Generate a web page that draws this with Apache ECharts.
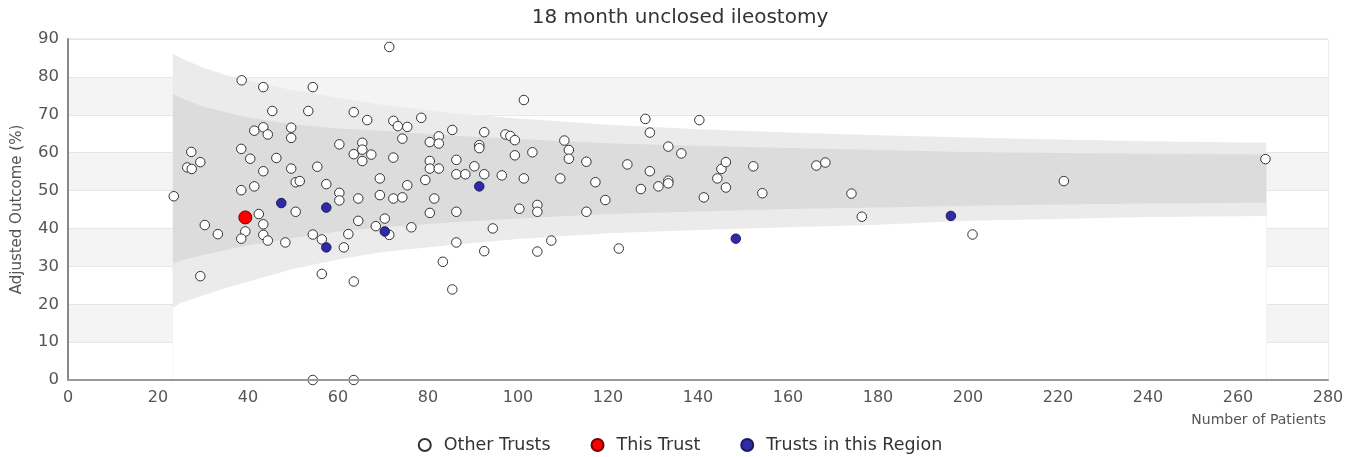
<!DOCTYPE html>
<html lang="en">
<head>
    <meta charset="utf-8">
    <title>18 month unclosed ileostomy</title>
    <style>
        html, body { margin: 0; padding: 0; background: #fff; }
        #funnel-chart { width: 1360px; height: 457px; }
    </style>
</head>
<body>
<div id="funnel-chart"></div>
<script src="https://cdn.jsdelivr.net/npm/echarts@6.0.0/dist/echarts.min.js"></script>
<script type="text/javascript">

// funnel limits at a few patient counts
var funnelN    = [23.3, 25, 30, 35, 40, 50, 60, 70, 85, 100, 120, 140, 160, 180, 200, 220, 240, 266.3];
var outerUpper = [86.2, 85.0, 82.5, 80.5, 79.0, 76.5, 74.5, 72.6, 70.5, 69.0, 67.4, 66.2, 65.3, 64.6, 64.0, 63.5, 63.0, 62.6];
var innerUpper = [75.5, 74.5, 72.2, 70.7, 69.3, 67.5, 66.4, 65.8, 64.5, 63.6, 62.5, 61.8, 61.2, 60.7, 60.2, 59.9, 59.7, 59.5];
var innerLower = [30.7, 31.5, 33.0, 34.3, 35.5, 37.5, 39.2, 40.3, 41.6, 42.6, 43.8, 44.5, 45.1, 45.5, 46.0, 46.3, 46.6, 46.8];
var outerLower = [19.1, 20.3, 22.3, 24.3, 25.9, 29.3, 31.8, 33.8, 35.6, 37.2, 38.7, 39.6, 40.3, 41.0, 42.0, 42.5, 43.0, 43.3];

// [number of patients, adjusted outcome %]
var otherTrusts = [
    [23.5, 48.5], [27.4, 60.2], [26.5, 56.1], [27.5, 55.7], [29.4, 57.5], [30.4, 40.9], [33.3, 38.5], [29.4, 27.4],
    [38.6, 79.1], [43.4, 77.3], [54.4, 77.3], [45.4, 71.0], [53.4, 71.0], [63.5, 70.7], [66.5, 68.6], [41.4, 65.8],
    [43.4, 66.7], [44.4, 64.8], [49.6, 66.6], [49.6, 63.9], [60.3, 62.2], [65.4, 62.6], [65.4, 60.8], [63.5, 59.6],
    [67.4, 59.5], [65.4, 57.8], [38.5, 61.0], [40.5, 58.4], [46.3, 58.6], [43.4, 55.1], [49.6, 55.8], [55.4, 56.3],
    [41.4, 51.1], [38.5, 50.1], [50.6, 52.2], [51.5, 52.5], [57.4, 51.7], [60.3, 49.4], [60.3, 47.4], [64.5, 47.9],
    [69.3, 53.2], [69.3, 48.8], [42.4, 43.8], [50.6, 44.4], [43.4, 41.1], [39.4, 39.2], [38.5, 37.3], [43.4, 38.3],
    [44.4, 36.8], [48.3, 36.3], [54.4, 38.4], [56.4, 37.1], [61.3, 35.0], [62.3, 38.5], [64.5, 42.0], [68.4, 40.6],
    [56.4, 28.0], [63.5, 26.0], [54.4, 0], [63.5, 0], [71.4, 87.9], [101.3, 73.9], [72.3, 68.4], [73.3, 67.0],
    [75.4, 66.8], [78.5, 69.2], [74.3, 63.7], [85.4, 66.0], [82.4, 64.3], [80.4, 62.8], [82.4, 62.4], [92.5, 65.4],
    [91.4, 62.0], [91.4, 61.2], [97.2, 64.8], [98.3, 64.4], [99.3, 63.3], [103.2, 60.1], [99.3, 59.3], [110.3, 63.2],
    [111.3, 60.7], [111.3, 58.4], [115.2, 57.6], [117.2, 52.2], [115.2, 44.4], [72.3, 58.7], [80.4, 57.8], [80.4, 55.8],
    [82.4, 55.8], [86.3, 58.1], [90.3, 56.4], [86.3, 54.3], [88.3, 54.3], [92.5, 54.3], [96.4, 54.0], [101.3, 53.2],
    [109.4, 53.2], [79.4, 52.8], [75.4, 51.4], [72.3, 47.9], [74.3, 48.2], [81.4, 47.9], [100.3, 45.2], [104.3, 46.2],
    [104.3, 44.4], [80.4, 44.1], [86.3, 44.4], [70.4, 42.6], [71.4, 38.3], [76.3, 40.3], [94.4, 40.0], [86.3, 36.3],
    [92.5, 34.0], [83.3, 31.2], [85.4, 23.9], [104.3, 33.9], [107.4, 36.8], [128.3, 68.9], [140.3, 68.6], [129.3, 65.3],
    [133.4, 61.6], [136.3, 59.8], [124.3, 56.9], [129.3, 55.1], [119.4, 47.5], [127.3, 50.4], [131.2, 51.1], [133.4, 52.6],
    [133.4, 51.9], [141.3, 48.2], [144.3, 53.2], [145.2, 55.7], [146.2, 57.5], [146.2, 50.8], [152.3, 56.4], [154.3, 49.3],
    [166.3, 56.6], [168.3, 57.4], [174.1, 49.2], [176.4, 43.1], [201.0, 38.4], [221.3, 52.5], [266.1, 58.3], [122.4, 34.7]
];
var thisTrust = [[39.4, 42.9]];
var regionTrusts = [[47.4, 46.7], [57.4, 45.5], [57.4, 35.0], [70.4, 39.2], [91.4, 51.1], [148.4, 37.3], [196.2, 43.3]];

var xTicks = { min: 0, max: 280, interval: 20 };
var yTicks = { min: 0, max: 90, interval: 10 };

function band(values, color) {
    // each band is filled down to the bottom of the axis, painted top band first
    return {
        type: 'line',
        data: funnelN.map((n, i) => [n, values[i]]),
        symbol: 'none',
        silent: true,
        z: 1,
        lineStyle: { width: 0 },
        areaStyle: { color: color, opacity: 1, origin: 'start' }
    };
}

var chart = echarts.init(document.getElementById('funnel-chart'));
var font = 'DejaVu Sans, sans-serif';

chart.setOption({
    animation: false,
    textStyle: { fontFamily: font },
    title: {
        text: '18 month unclosed ileostomy',
        left: 'center',
        top: 3,
        textStyle: { fontSize: 20, fontWeight: 'normal', color: '#333', fontFamily: font }
    },
    legend: {
        top: 436,
        left: 'center',
        padding: 0,
        itemGap: 40,
        itemWidth: 12,
        itemHeight: 12,
        icon: 'circle',
        textStyle: { fontSize: 17.5, color: '#333', fontFamily: font, padding: [0, 0, 0, 8] },
        data: ['Other Trusts', 'This Trust', 'Trusts in this Region']
    },
    grid: {
        left: 68,
        right: 32,
        top: 39,
        bottom: 77,
        show: true,
        borderColor: '#dddddd',
        borderWidth: 1
    },
    xAxis: {
        type: 'value',
        z: 5,   // keep the axis line above the funnel fill
        min: xTicks.min,
        max: xTicks.max,
        interval: xTicks.interval,
        name: 'Number of Patients',
        nameLocation: 'end',
        nameGap: -2,
        nameTextStyle: { align: 'right', verticalAlign: 'top', padding: [33, 0, 0, 0], fontSize: 14, color: '#555' },
        axisLine: { lineStyle: { color: '#999', width: 2 } },
        axisTick: { show: false },
        axisLabel: { fontSize: 16, color: '#555', margin: 10 },
        splitLine: { show: false }
    },
    yAxis: {
        type: 'value',
        min: yTicks.min,
        max: yTicks.max,
        interval: yTicks.interval,
        name: 'Adjusted Outcome (%)',
        nameLocation: 'middle',
        nameGap: 43,
        nameTextStyle: { fontSize: 15, color: '#555' },
        axisLine: { show: true, lineStyle: { color: '#888', width: 2 } },
        axisTick: { show: false },
        axisLabel: { fontSize: 16.5, color: '#555', margin: 9 },
        splitLine: { show: true, lineStyle: { color: '#e6e6e6', width: 1 } },
        splitArea: { show: true, areaStyle: { color: ['#ffffff', '#f4f4f4'] } }
    },
    series: [
        band(outerUpper, '#ebebeb'),
        band(innerUpper, '#dcdcdc'),
        band(innerLower, '#ebebeb'),
        band(outerLower, '#ffffff'),
        {
            name: 'Other Trusts',
            type: 'scatter',
            z: 3,
            symbol: 'circle',
            symbolSize: 9.5,
            itemStyle: { color: '#ffffff', borderColor: '#333', borderWidth: 1, opacity: 1 },
            data: otherTrusts
        },
        {
            name: 'Trusts in this Region',
            type: 'scatter',
            z: 4,
            symbol: 'circle',
            symbolSize: 9.5,
            itemStyle: { color: '#2f2aa6', borderColor: '#1c1a5e', borderWidth: 1, opacity: 1 },
            data: regionTrusts
        },
        {
            name: 'This Trust',
            type: 'scatter',
            z: 5,
            symbol: 'circle',
            symbolSize: 13,
            itemStyle: { color: '#ff0000', borderColor: '#7a0000', borderWidth: 1, opacity: 1 },
            data: thisTrust
        }
    ]
});

</script>
</body>
</html>
